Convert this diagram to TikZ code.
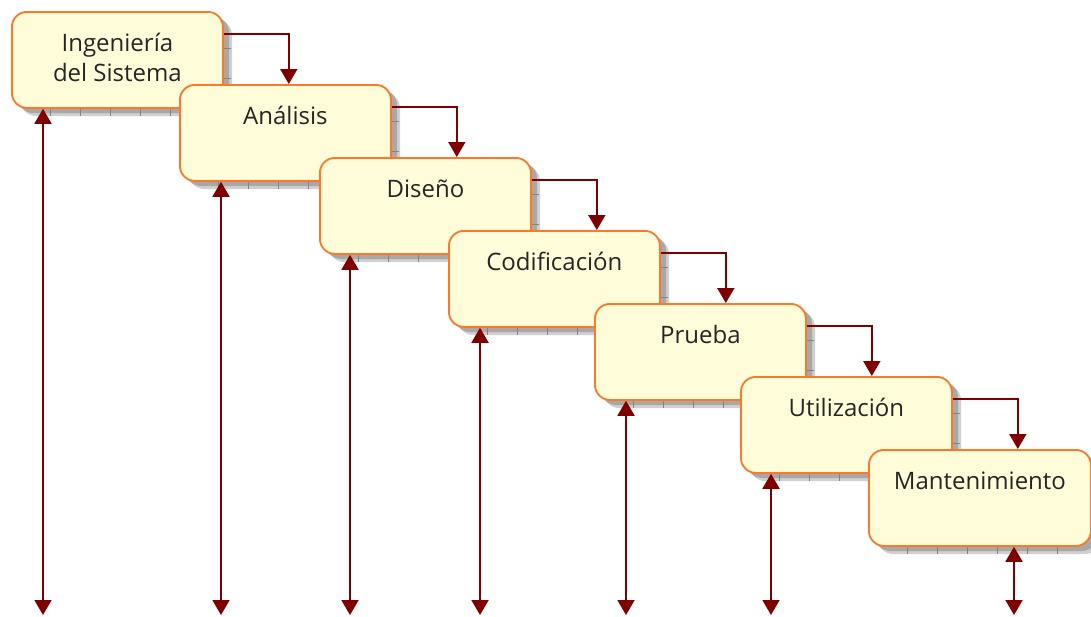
\documentclass[tikz,border=0pt]{standalone}
\usepackage{fontspec}
\setmainfont{Open Sans}
\usetikzlibrary{arrows.meta}
\definecolor{boxfill}{RGB}{255,252,218}
\definecolor{boxline}{RGB}{255,120,40}
\definecolor{flow}{RGB}{128,0,0}
\definecolor{shade}{RGB}{168,168,168}
\definecolor{shadelight}{RGB}{208,208,208}
\definecolor{shadetick}{RGB}{130,130,130}
\begin{document}
\begin{tikzpicture}[x=1pt,y=-1pt,
  phase/.style={draw=boxline, line width=1.8pt, fill=boxfill,
    rounded corners=15pt, anchor=north west, inner sep=0pt,
    text height=40pt, text depth=56pt, align=center,
    font=\fontsize{24}{30}\selectfont, text=black!85},
  twolines/.style={text height=70pt, text depth=26pt},
  oneline/.style={},
  shadowfar/.style={fill=shadelight, rounded corners=15pt},
  shadownear/.style={fill=shade, rounded corners=15pt},
  shadowtick/.style={draw=shadetick, line width=0.8pt},
  flowline/.style={draw=flow, line width=1.9pt},
  feed/.style={flowline, -{Triangle[width=17pt,length=15pt]}},
  span/.style={flowline, {Triangle[width=17pt,length=15pt]}-{Triangle[width=17pt,length=15pt]}}]

\useasboundingbox (0,0) rectangle (1091,616);
\fill[white] (0,0) rectangle (1091,616);

% phase boxes, each with its drop shadow
\foreach \n/\x/\y/\w/\s/\t in {
    b1/11/11/211/twolines/{Ingeniería\\del Sistema},
    b2/179/84/211/oneline/{Análisis},
    b3/319/157/211/oneline/{Diseño},
    b4/448/230/211/oneline/{Codificación},
    b5/594/303/211/oneline/{Prueba},
    b6/740/376/211/oneline/{Utilización},
    b7/868/449/222/oneline/{Mantenimiento}}{
  \fill[shadowfar] (\x+10,\y+9) rectangle ++(\w,96);
  \fill[shadownear] (\x+7,\y+6) rectangle ++(\w,96);
  \foreach \k in {0,1} {
    \draw[shadowtick] (\x+\w+1,\y+37+30*\k) -- ++(8,0);
  }
  \pgfmathtruncatemacro{\nt}{(\w-50)/30}
  \foreach \k in {0,...,\nt} {
    \draw[shadowtick] (\x+39+30*\k,\y+97) -- ++(0,8);
  }
  \node[phase, \s, minimum width=\w pt] (\n) at (\x,\y) {\t};
}

% hand-over from each phase to the next
\foreach \a/\b in {b1/b2, b2/b3, b3/b4, b4/b5, b5/b6, b6/b7} {
  \coordinate (d\a) at ([xshift=65pt]\a.north east);
  \draw[feed] ([yshift=-23pt]\a.north east) -| (d\a |- \b.north);
}

% feedback lines below every phase
\foreach \n/\x in {b1/43, b2/221, b3/350, b4/480, b5/626, b6/771, b7/1014} {
  \coordinate (e\n) at (\x,615);
  \draw[span] (e\n) -- (e\n |- \n.south);
}
\end{tikzpicture}
\end{document}
